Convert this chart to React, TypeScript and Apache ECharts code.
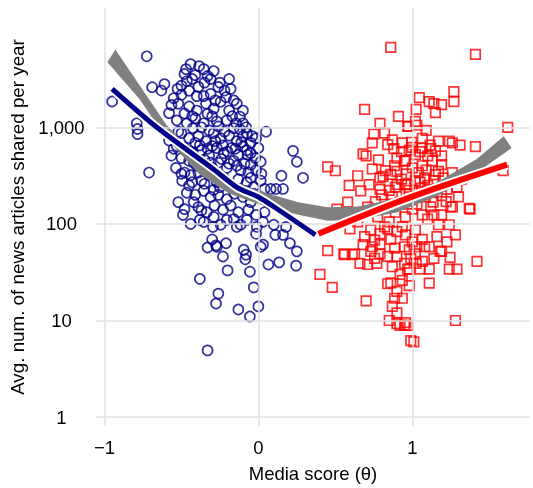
import React, { useEffect, useRef } from 'react';
import * as echarts from 'echarts';

const FONT = '"Liberation Sans", Arial, Helvetica, sans-serif';

const xTickValues = [-1, 0, 1];
const xTickLabels = ['\u22121', '0', '1'];
const yTickValues = [1, 10, 100, 1000];
const yTickLabels = ['1', '10', '100', '1,000'];

// [media score θ, avg. articles per year]
const bluePoints: number[][] = [
  [-0.725, 5430], [-0.95, 1850], [-0.79, 1100], [-0.785, 960], [-0.785, 850], [-0.71, 340], [-0.69, 2600],
  [-0.63, 2400], [-0.61, 2800], [-0.565, 1700], [-0.58, 730], [-0.565, 510], [-0.535, 380], [-0.5, 480],
  [-0.48, 340], [-0.495, 280], [-0.43, 270], [-0.385, 4300], [-0.47, 4000], [-0.48, 3560], [-0.465, 3000],
  [-0.5, 2700], [-0.525, 2500], [-0.43, 3160], [-0.33, 3400], [-0.4, 2100], [-0.355, 2100], [-0.31, 3160],
  [-0.19, 3160], [-0.22, 2400], [-0.21, 2050], [-0.14, 1760], [-0.12, 1290], [-0.145, 1100], [0.05, 900],
  [0.225, 570], [0.25, 440], [0.29, 300], [0.15, 315], [0.015, 440], [-0.05, 410], [-0.075, 870],
  [-0.04, 810], [-0.05, 690], [-0.075, 580], [-0.05, 540], [0.16, 230], [0.115, 230], [0.08, 230],
  [-0.38, 27], [-0.26, 19], [-0.275, 15], [-0.13, 13], [-0.055, 11], [0.0, 14], [-0.03, 22], [-0.055, 32],
  [-0.2, 33], [-0.23, 46], [-0.33, 57], [-0.275, 60], [-0.21, 63], [-0.3, 69], [-0.095, 54], [-0.08, 48],
  [-0.085, 43], [0.015, 58], [0.03, 61], [0.065, 38], [0.135, 40], [0.25, 52], [0.245, 37], [0.205, 63],
  [0.16, 77], [0.11, 77], [0.1, 98], [0.18, 93], [-0.01, 93], [-0.015, 79], [-0.14, 93], [-0.075, 110],
  [-0.205, 110], [-0.295, 93], [-0.48, 142], [-0.44, 100], [-0.42, 168], [-0.38, 110], [-0.37, 138],
  [-0.33, 4.9], [-0.27, 58],
  [-0.44, 4500], [-0.355, 4000], [-0.41, 3470], [-0.29, 3820], [-0.45, 2390], [-0.39, 2620], [-0.31, 2220],
  [-0.26, 2620], [-0.5, 2170], [-0.18, 2500], [-0.52, 1760], [-0.45, 1640], [-0.4, 1490], [-0.34, 1760],
  [-0.29, 1560], [-0.245, 1840], [-0.19, 1490], [-0.1, 1490], [-0.48, 1390], [-0.53, 1180], [-0.465, 1100],
  [-0.41, 1240], [-0.355, 1100], [-0.3, 1295], [-0.26, 1020], [-0.205, 1180], [-0.16, 980], [-0.1, 1100],
  [-0.425, 980], [-0.32, 930], [-0.5, 870], [-0.45, 770], [-0.39, 810], [-0.34, 720], [-0.29, 870],
  [-0.245, 770], [-0.19, 820], [-0.14, 720], [-0.1, 810], [-0.015, 770], [-0.41, 690], [-0.3, 640],
  [-0.48, 610], [-0.425, 540], [-0.37, 580], [-0.32, 510], [-0.27, 610], [-0.225, 540], [-0.175, 610],
  [-0.13, 520], [-0.1, 630], [0.0, 610], [-0.53, 640], [-0.45, 450], [-0.4, 400], [-0.35, 460], [-0.3, 380],
  [-0.26, 430], [-0.205, 380], [-0.16, 450], [-0.115, 360], [-0.065, 340], [-0.015, 360], [-0.39, 340],
  [-0.44, 320], [-0.37, 280], [-0.32, 320], [-0.27, 270], [-0.225, 300], [-0.18, 250], [-0.13, 290],
  [-0.075, 270], [-0.03, 240], [-0.29, 225], [0.015, 280], [-0.465, 210], [-0.41, 200], [-0.355, 220],
  [-0.31, 190], [-0.26, 200], [-0.205, 180], [-0.155, 205], [-0.1, 190], [-0.05, 168], [0.015, 190],
  [0.065, 168], [-0.52, 168], [-0.39, 149], [-0.335, 132], [-0.285, 155], [-0.23, 140], [-0.18, 155],
  [-0.13, 132], [-0.065, 140], [-0.015, 124], [0.04, 132], [-0.49, 124], [-0.355, 105], [-0.29, 118],
  [-0.245, 98], [-0.16, 112], [-0.115, 98], [0.03, 105],
  [-0.43, 1300], [-0.37, 1000], [-0.33, 1380], [-0.27, 1150], [-0.22, 900], [-0.17, 1300], [-0.12, 950],
  [-0.08, 1000], [-0.44, 560], [-0.38, 650], [-0.33, 600], [-0.28, 720], [-0.23, 650], [-0.2, 560],
  [-0.15, 600], [-0.11, 700], [-0.07, 520], [-0.02, 480], [-0.42, 430], [-0.36, 400], [-0.31, 430],
  [-0.24, 470], [-0.19, 420], [-0.14, 400], [-0.09, 420], [-0.05, 300], [0.02, 330], [-0.35, 260],
  [-0.25, 240], [-0.16, 240], [-0.08, 220], [-0.03, 205], [0.04, 230], [-0.45, 250], [-0.5, 330],
  [-0.55, 600], [-0.52, 900], [-0.58, 1400], [-0.55, 2000], [-0.35, 2900], [-0.25, 2900], [-0.28, 1900],
  [-0.16, 1900],
];

const redPoints: number[][] = [
  [0.86, 6710], [1.41, 5690], [0.69, 1530], [0.91, 1300], [0.79, 1100], [0.75, 850], [0.82, 870], [0.74, 690],
  [0.87, 740], [0.84, 660], [0.935, 690], [0.97, 1020], [0.68, 530], [0.7, 505], [0.78, 460], [0.45, 390],
  [0.5, 355], [0.59, 250], [0.665, 220], [0.72, 255], [0.79, 300], [0.825, 356], [0.885, 400], [0.95, 450],
  [0.86, 325], [0.9, 255], [0.955, 255], [0.79, 228], [0.85, 222],
  [1.27, 2340], [1.27, 1840], [1.045, 2030], [1.11, 1840], [1.14, 1760], [1.19, 1720], [1.15, 1420],
  [1.025, 1530], [1.02, 1150], [1.03, 1050], [0.975, 1020], [1.09, 930], [1.62, 1000], [1.41, 630],
  [1.31, 655], [1.26, 690], [1.24, 720], [1.17, 720], [1.115, 655], [0.995, 700], [1.065, 610], [0.98, 580],
  [1.15, 570], [1.19, 505], [1.1, 505], [1.02, 520], [0.955, 450], [1.19, 410], [1.13, 450], [1.065, 400],
  [1.0, 380], [1.15, 324], [1.08, 300], [1.02, 280], [0.97, 255], [1.1, 250], [0.98, 222], [1.59, 356],
  [0.51, 142], [1.37, 145], [1.28, 77], [1.26, 150],
  [0.45, 53], [0.56, 48], [0.61, 48], [0.4, 30], [0.48, 22], [0.7, 16], [0.66, 39], [0.71, 38], [0.77, 39],
  [0.755, 44], [0.79, 49], [0.79, 61], [0.74, 58], [0.755, 68], [0.69, 74], [0.73, 87], [0.79, 79],
  [0.84, 89], [0.86, 69], [0.885, 56], [0.9, 46], [0.95, 39], [0.97, 34], [0.92, 30], [0.86, 24.5],
  [0.84, 24], [0.9, 20], [0.885, 17], [0.935, 17], [0.87, 14], [0.9, 12], [0.85, 10], [0.9, 9.3],
  [0.92, 8.9], [0.95, 8.9], [0.97, 8.9], [0.99, 6.2], [0.82, 93], [0.71, 149], [0.555, 49], [0.625, 49],
  [0.73, 52], [1.11, 24.4], [1.11, 34], [1.05, 34], [0.98, 34], [1.025, 39], [1.18, 52], [1.245, 45],
  [1.24, 34], [1.29, 34], [1.42, 41], [1.28, 10], [0.95, 58], [1.03, 58], [1.08, 58], [1.375, 142],
  [1.25, 150], [1.24, 98], [1.17, 98], [1.19, 124], [1.14, 124], [1.1, 112], [1.19, 52], [1.01, 6.0],
  [0.955, 9.5], [1.02, 87], [1.0, 65], [1.065, 69], [1.11, 58], [1.02, 49], [0.98, 54], [0.955, 77],
  [0.935, 93],
  [0.87, 190], [0.92, 168], [0.98, 190], [1.03, 160], [1.085, 190], [1.135, 168], [1.19, 196], [1.225, 228],
  [1.29, 240], [0.825, 149], [0.89, 132], [0.955, 118], [1.0, 142], [1.065, 124], [0.775, 118], [0.85, 105],
  [0.9, 83], [0.645, 105], [0.595, 89], [0.68, 61], [0.84, 46], [0.87, 36], [0.99, 44], [1.065, 41],
  [1.14, 44], [1.16, 74], [1.225, 65], [0.935, 26], [0.98, 23], [0.81, 310], [0.74, 370], [0.645, 315],
  [0.58, 168], [1.03, 210], [1.11, 228], [1.26, 340], [1.32, 290], [0.9, 480], [1.065, 770],
  [0.88, 600], [0.93, 560], [1.0, 620], [1.05, 560], [1.12, 600], [0.9, 350], [0.96, 330], [1.04, 340],
  [1.09, 360], [1.17, 350], [0.93, 290], [1.05, 270], [1.14, 280], [1.2, 300], [0.96, 205], [1.06, 235],
  [1.16, 215], [0.89, 240], [0.8, 200], [0.76, 170], [1.22, 170], [1.3, 190], [1.12, 150], [0.97, 160],
  [0.86, 160],
];

const blueFit: number[][] = [
  [-0.95, 2500], [-0.66, 1000], [-0.287, 364], [-0.139, 239], [0.0, 190], [0.13, 140], [0.37, 77],
];
const redFit: number[][] = [[0.39, 79], [0.99, 189], [1.616, 410]];

// pooled fit band: upper edge left→right, lower edge right→left
const bandUpper: number[][] = [
  [-0.929, 6400], [-0.774, 2750], [-0.6, 1074], [-0.387, 460], [-0.194, 281], [0.0, 222], [0.258, 168],
  [0.452, 149], [0.645, 151], [0.903, 184], [1.161, 270], [1.419, 471], [1.594, 810],
];
const bandLower: number[][] = [
  [1.645, 610], [1.419, 340], [1.161, 193], [0.903, 132], [0.645, 110], [0.452, 108], [0.258, 124],
  [0.0, 160], [-0.194, 207], [-0.387, 331], [-0.6, 773], [-0.774, 1977], [-0.981, 4710],
];

const NAVY = '#000088';
const RED = '#ff0000';

export default function App() {
  const ref = useRef<HTMLDivElement>(null);
  useEffect(() => {
    document.body.style.margin = '0';
    const chart = echarts.init(ref.current as HTMLDivElement, null, { renderer: 'svg' });
    const fmtX = (v: number) => {
      const i = xTickValues.findIndex((t) => Math.abs(t - v) < 1e-6);
      return i >= 0 ? xTickLabels[i] : '';
    };
    const fmtY = (v: number) => {
      const i = yTickValues.findIndex((t) => Math.abs(Math.log10(t) - Math.log10(v)) < 1e-6);
      return i >= 0 ? yTickLabels[i] : '';
    };
    const labelStyle = { color: '#000', fontSize: 18.5, fontFamily: FONT };
    chart.setOption({
      animation: false,
      textStyle: { fontFamily: FONT },
      grid: { left: 96, right: 0, top: 8, bottom: 56, containLabel: false },
      xAxis: {
        type: 'value',
        min: -1.0548,
        max: 1.7645,
        axisLine: { show: false },
        axisTick: { show: false },
        splitLine: { show: false },
        axisLabel: { ...labelStyle, formatter: fmtX, margin: 12, hideOverlap: false },
        name: 'Media score (\u03b8)',
        nameLocation: 'middle',
        nameGap: 38,
        nameTextStyle: labelStyle,
      },
      yAxis: {
        type: 'log',
        logBase: 10,
        min: 0.809,
        max: 17170,
        axisLine: { show: false },
        axisTick: { show: false },
        splitLine: { show: false },
        axisLabel: { ...labelStyle, formatter: fmtY, align: 'center', margin: 34.5, hideOverlap: false },
        name: 'Avg. num. of news articles shared per year',
        nameLocation: 'middle',
        nameGap: 56,
        nameRotate: 90,
        nameTextStyle: { ...labelStyle, fontSize: 18.8 },
      },
      series: [
        {
          type: 'line',
          data: [[0, 1]],
          symbol: 'none',
          showSymbol: false,
          lineStyle: { opacity: 0 },
          silent: true,
          z: 0,
          markLine: {
            silent: true,
            symbol: ['none', 'none'],
            label: { show: false },
            lineStyle: { color: '#e0e0e0', width: 1.5, type: 'solid' },
            data: [
              ...xTickValues.map((v) => ({ xAxis: v })),
              ...yTickValues.map((v) => ({ yAxis: v })),
            ],
          },
        },
        {
          type: 'scatter',
          data: bluePoints,
          symbol: 'circle',
          symbolSize: 10,
          itemStyle: { color: 'rgba(0,0,0,0)', borderColor: NAVY, borderWidth: 1.7 },
          z: 2,
        },
        {
          type: 'scatter',
          data: redPoints,
          symbol: 'rect',
          symbolSize: 9.5,
          itemStyle: { color: 'rgba(0,0,0,0)', borderColor: RED, borderWidth: 1.7 },
          z: 2,
        },
        {
          type: 'custom',
          data: [[0.5, 100]],
          encode: { x: 0, y: 1 },
          z: 3,
          silent: true,
          renderItem: (_params: any, api: any) => {
            const pts = [...bandUpper.map((p) => api.coord(p)), ...bandLower.map((p) => api.coord(p))];
            return { type: 'polygon', shape: { points: pts }, style: { fill: '#808080' } };
          },
        },
        {
          type: 'line', data: blueFit, symbol: 'none', smooth: 0.3, z: 4, silent: true,
          lineStyle: { color: '#ffffff', width: 9 },
        },
        {
          type: 'line', data: redFit, symbol: 'none', smooth: 0.3, z: 4, silent: true,
          lineStyle: { color: '#ffffff', width: 10 },
        },
        {
          type: 'line', data: blueFit, symbol: 'none', smooth: 0.3, z: 5, silent: true,
          lineStyle: { color: NAVY, width: 5 },
        },
        {
          type: 'line', data: redFit, symbol: 'none', smooth: 0.3, z: 5, silent: true,
          lineStyle: { color: RED, width: 6 },
        },
      ],
    });
    return () => chart.dispose();
  }, []);
  return <div ref={ref} style={{ position: 'fixed', left: 0, top: 0, width: 533, height: 488 }} />;
}
